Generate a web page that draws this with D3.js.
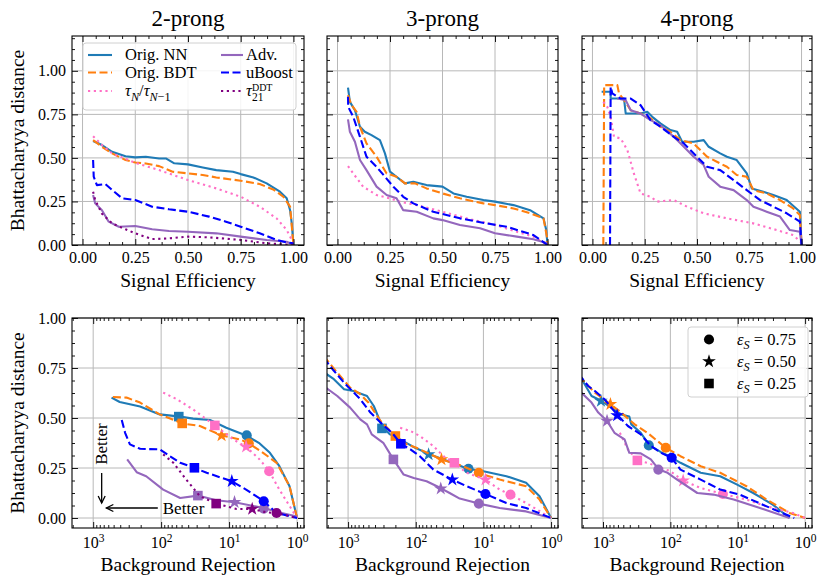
<!DOCTYPE html>
<html><head><meta charset="utf-8">
<script src="https://cdn.jsdelivr.net/npm/d3@7"></script>
<style>
body{margin:0;background:#fff}
svg{display:block}
text{font-family:"Liberation Serif",serif;fill:#000}
</style>
</head><body>
<svg id="c" width="831" height="587"></svg>
<script>
// ---------------- DATA ----------------
const titles = ["2-prong", "3-prong", "4-prong"];
const topXTicks = [0, 0.25, 0.5, 0.75, 1.0];
const yTicks = [0, 0.25, 0.5, 0.75, 1.0];
const botXTicks = [1000, 100, 10, 1];
const effLabels = ["0.75", "0.50", "0.25"];

// Top row: [signal efficiency, Bhattacharyya distance]
const top2_NN = [[0.05,0.597],[0.092,0.574],[0.14,0.535],[0.204,0.51],[0.25,0.503],[0.30,0.507],[0.363,0.497],[0.395,0.497],[0.435,0.469],[0.5,0.463],[0.57,0.445],[0.634,0.43],[0.713,0.421],[0.75,0.407],[0.81,0.388],[0.873,0.354],[0.936,0.306],[0.968,0.268],[0.984,0.2],[0.992,0.124],[1.0,0]];
const top2_BDT = [[0.05,0.602],[0.092,0.564],[0.14,0.526],[0.204,0.488],[0.25,0.474],[0.30,0.468],[0.363,0.453],[0.427,0.421],[0.5,0.411],[0.57,0.402],[0.634,0.388],[0.75,0.369],[0.84,0.35],[0.904,0.319],[0.952,0.277],[0.984,0.22],[1.0,0]];
const top2_tau = [[0.05,0.625],[0.092,0.574],[0.14,0.526],[0.25,0.472],[0.363,0.43],[0.5,0.373],[0.634,0.325],[0.75,0.277],[0.84,0.22],[0.92,0.153],[0.968,0.086],[1.0,0.01]];
const top2_adv = [[0.05,0.287],[0.06,0.239],[0.092,0.2],[0.124,0.134],[0.172,0.105],[0.25,0.109],[0.33,0.09],[0.41,0.08],[0.5,0.076],[0.634,0.067],[0.75,0.048],[0.873,0.029],[0.968,0.019],[1.0,0]];
const top2_uboost = [[0.05,0.488],[0.053,0.392],[0.068,0.344],[0.108,0.35],[0.14,0.316],[0.188,0.268],[0.25,0.258],[0.33,0.22],[0.41,0.205],[0.5,0.191],[0.6,0.163],[0.68,0.134],[0.75,0.105],[0.84,0.067],[0.92,0.029],[0.968,0.015],[1.0,0.01]];
const top2_ddt = [[0.05,0.306],[0.06,0.258],[0.092,0.18],[0.14,0.124],[0.204,0.09],[0.25,0.067],[0.33,0.034],[0.41,0.038],[0.5,0.048],[0.6,0.044],[0.75,0.029],[0.873,0.01],[1.0,0]];

const top3_NN = [[0.05,0.904],[0.059,0.822],[0.083,0.774],[0.107,0.679],[0.13,0.65],[0.162,0.631],[0.202,0.602],[0.226,0.526],[0.25,0.421],[0.281,0.392],[0.321,0.354],[0.361,0.363],[0.424,0.344],[0.5,0.335],[0.552,0.296],[0.615,0.277],[0.695,0.258],[0.75,0.249],[0.838,0.229],[0.917,0.2],[0.981,0.153],[0.994,0.086],[1.0,0]];
const top3_BDT = [[0.05,0.86],[0.067,0.803],[0.091,0.765],[0.107,0.679],[0.138,0.583],[0.186,0.507],[0.234,0.411],[0.281,0.392],[0.321,0.354],[0.369,0.354],[0.424,0.325],[0.5,0.296],[0.583,0.268],[0.695,0.239],[0.75,0.229],[0.838,0.21],[0.917,0.182],[0.981,0.153],[0.997,0.048],[1.0,0]];
const top3_tau = [[0.05,0.453],[0.075,0.411],[0.122,0.335],[0.186,0.287],[0.25,0.268],[0.297,0.249],[0.377,0.229],[0.5,0.191],[0.615,0.153],[0.75,0.115],[0.854,0.076],[0.933,0.048],[1.0,0]];
const top3_adv = [[0.05,0.721],[0.059,0.65],[0.083,0.593],[0.107,0.488],[0.138,0.43],[0.186,0.335],[0.234,0.287],[0.281,0.268],[0.313,0.2],[0.377,0.191],[0.456,0.153],[0.5,0.143],[0.583,0.115],[0.679,0.096],[0.75,0.067],[0.854,0.048],[0.933,0.033],[1.0,0.01]];
const top3_uboost = [[0.05,0.851],[0.051,0.793],[0.075,0.736],[0.107,0.621],[0.138,0.507],[0.186,0.449],[0.226,0.392],[0.266,0.335],[0.313,0.277],[0.361,0.239],[0.456,0.191],[0.583,0.153],[0.71,0.124],[0.806,0.105],[0.933,0.057],[1.0,0]];

const top4_NN = [[0.044,0.88],[0.087,0.88],[0.087,0.841],[0.151,0.841],[0.159,0.755],[0.23,0.755],[0.262,0.765],[0.286,0.736],[0.325,0.698],[0.373,0.66],[0.405,0.65],[0.429,0.593],[0.484,0.593],[0.532,0.602],[0.556,0.564],[0.611,0.526],[0.643,0.507],[0.69,0.488],[0.738,0.411],[0.762,0.325],[0.817,0.306],[0.865,0.287],[0.929,0.258],[0.992,0.191],[1.0,0]];
const top4_BDT = [[0.052,0],[0.056,0.918],[0.119,0.918],[0.127,0.87],[0.151,0.832],[0.183,0.774],[0.23,0.755],[0.278,0.727],[0.325,0.679],[0.373,0.65],[0.421,0.602],[0.484,0.583],[0.548,0.507],[0.595,0.478],[0.643,0.449],[0.69,0.402],[0.738,0.392],[0.77,0.315],[0.833,0.296],[0.897,0.258],[0.96,0.21],[0.992,0.172],[1.0,0]];
const top4_tau = [[0.052,0.822],[0.071,0.793],[0.087,0.736],[0.103,0.621],[0.135,0.612],[0.167,0.545],[0.198,0.411],[0.23,0.296],[0.278,0.277],[0.31,0.249],[0.389,0.258],[0.452,0.22],[0.532,0.182],[0.643,0.153],[0.77,0.124],[0.881,0.086],[0.96,0.057],[0.995,0.019]];
const top4_adv = [[0.119,0.841],[0.159,0.832],[0.183,0.774],[0.23,0.755],[0.278,0.717],[0.325,0.688],[0.389,0.621],[0.437,0.564],[0.484,0.507],[0.532,0.459],[0.556,0.392],[0.611,0.335],[0.675,0.315],[0.738,0.258],[0.77,0.22],[0.833,0.191],[0.897,0.163],[0.944,0.086],[0.992,0.076],[1.0,0]];
const top4_uboost = [[0.084,0],[0.087,0.908],[0.095,0.87],[0.135,0.841],[0.183,0.841],[0.23,0.803],[0.278,0.717],[0.325,0.679],[0.389,0.621],[0.437,0.583],[0.5,0.507],[0.548,0.449],[0.611,0.43],[0.675,0.373],[0.738,0.315],[0.802,0.258],[0.865,0.22],[0.929,0.182],[0.992,0.134],[1.0,0]];

// Bottom row: [background rejection, Bhattacharyya distance]
const bot2_NN = [[537,0.602],[407,0.58],[204,0.557],[105,0.518],[52.5,0.507],[33.9,0.497],[19.1,0.49],[11.0,0.451],[5.62,0.413],[3.55,0.373],[2.51,0.326],[1.82,0.259],[1.29,0.159],[1,0]];
const bot2_BDT = [[513,0.605],[324,0.602],[204,0.577],[105,0.518],[49,0.473],[26.9,0.46],[12.9,0.413],[6.92,0.393],[5.13,0.373],[3.16,0.326],[2.0,0.276],[1.29,0.159],[1,0]];
const bot2_tau = [[93.3,0.627],[58.9,0.594],[33.9,0.543],[16.2,0.463],[8.71,0.393],[5.62,0.356],[3.55,0.293],[2.57,0.234],[1.82,0.142],[1,0]];
const bot2_adv = [[316,0.293],[229,0.229],[166,0.209],[93.3,0.142],[52.5,0.1],[28.8,0.112],[15.5,0.089],[8.32,0.079],[3.09,0.05],[1.82,0.028],[1,0.008]];
const bot2_uboost = [[380,0.49],[339,0.426],[288,0.368],[204,0.346],[105,0.343],[74.1,0.309],[52.5,0.276],[32.4,0.251],[21.4,0.226],[9.12,0.184],[5.62,0.142],[3.09,0.084],[2.0,0.025],[1,0]];
const bot2_ddt = [[93.3,0.318],[66.1,0.276],[42.7,0.192],[26.9,0.109],[15.5,0.072],[7.76,0.045],[4.57,0.045],[2.82,0.028],[2.0,0.025],[1,0]];

const bot3_NN = [[2300,0.73],[1622,0.694],[1148,0.644],[832,0.635],[525,0.61],[417,0.56],[316,0.46],[240,0.418],[170,0.393],[102,0.351],[61.7,0.318],[38.9,0.293],[17.0,0.246],[10,0.234],[4.57,0.209],[2.34,0.176],[1.48,0.109],[1,0]];
const bot3_BDT = [[2300,0.81],[1445,0.727],[933,0.652],[661,0.619],[501,0.577],[331,0.485],[200,0.41],[135,0.368],[97.7,0.351],[41.7,0.293],[20.0,0.259],[12.0,0.226],[5.75,0.192],[2.34,0.159],[1.48,0.092],[1,0]];
const bot3_tau = [[170,0.451],[120,0.435],[87.1,0.41],[55.0,0.36],[38.9,0.309],[26.9,0.276],[17.8,0.226],[9.33,0.192],[5.75,0.142],[3.98,0.117],[2.34,0.075],[1,0]];
const bot3_adv = [[2300,0.66],[1445,0.61],[933,0.552],[661,0.493],[525,0.468],[447,0.418],[302,0.376],[214,0.293],[151,0.217],[107,0.2],[69.2,0.184],[43.7,0.151],[31.6,0.125],[22.4,0.097],[11.7,0.072],[5.75,0.05],[2.34,0.033],[1,0]];
const bot3_uboost = [[2300,0.80],[1622,0.736],[1148,0.677],[661,0.594],[468,0.527],[331,0.477],[224,0.426],[166,0.371],[120,0.343],[87.1,0.309],[55.0,0.242],[28.8,0.192],[17.8,0.159],[9.33,0.12],[4.57,0.075],[2.34,0.05],[1,0]];

const bot4_NN = [[2300,0.72],[1479,0.61],[1047,0.585],[759,0.552],[537,0.518],[407,0.507],[380,0.468],[275,0.426],[204,0.363],[138,0.329],[100,0.306],[70.8,0.276],[35.5,0.226],[18.2,0.209],[10.2,0.167],[5.89,0.125],[3.02,0.067],[1.70,0]];
const bot4_BDT = [[2300,0.71],[1318,0.627],[776,0.569],[537,0.527],[339,0.468],[219,0.426],[117,0.351],[70.8,0.309],[35.5,0.259],[18.2,0.226],[7.41,0.159],[3.72,0.092],[1.70,0.025],[1,0]];
const bot4_tau = [[562,0.426],[427,0.343],[309,0.288],[219,0.276],[138,0.251],[100,0.234],[64.6,0.187],[35.5,0.15],[16.6,0.12],[7.41,0.092],[3.72,0.058],[1.51,0.025],[1,0]];
const bot4_adv = [[2300,0.64],[1479,0.577],[1175,0.527],[871,0.485],[676,0.426],[479,0.393],[407,0.326],[275,0.323],[195,0.293],[148,0.242],[110,0.226],[79.4,0.192],[39.8,0.125],[22.9,0.117],[11.5,0.092],[4.68,0.05],[1.70,0]];
const bot4_uboost = [[2300,0.72],[1660,0.66],[1318,0.635],[955,0.594],[603,0.513],[427,0.46],[275,0.418],[195,0.36],[138,0.326],[95.5,0.301],[70.8,0.242],[35.5,0.192],[18.2,0.142],[9.33,0.117],[3.72,0.058],[1.45,0]];

// Working-point markers: [eps_S=0.75 (circle), eps_S=0.50 (star), eps_S=0.25 (square)]
const mk2_NN = [[5.5,0.413], null, [55,0.507]];
const mk2_BDT = [[5.13,0.373],[12.9,0.413],[49,0.473]];
const mk2_tau = [[2.57,0.234],[5.62,0.356],[16.2,0.463]];
const mk2_adv = [[3.09,0.047],[8.32,0.079],[28.8,0.112]];
const mk2_uboost = [[3.09,0.084],[9.12,0.184],[32.4,0.251]];
const mk2_ddt = [[2.0,0.025],[4.57,0.045],[15.5,0.072]];
const mk3_NN = [[16.6,0.246],[64.6,0.318],[316,0.448]];
const mk3_BDT = [[11.7,0.226],[41.7,0.293],[200,0.41]];
const mk3_tau = [[3.98,0.117],[9.33,0.192],[26.9,0.276]];
const mk3_adv = [[11.7,0.072],[42.7,0.147],[214,0.293]];
const mk3_uboost = [[9.33,0.12],[28.8,0.192],[166,0.371]];
const mk4_NN = [[209,0.363],[1072,0.585],null];
const mk4_BDT = [[117,0.351],[776,0.569],null];
const mk4_tau = [[16.6,0.12],[64.6,0.187],[309,0.288]];
const mk4_adv = [[151,0.242],[871,0.485],null];
const mk4_uboost = [[95.5,0.301],[617,0.513],null];

// ---------------- STYLES / LAYOUT ----------------
const style = {
  NN:     {c:"#1f7bb6", dash:null},
  BDT:    {c:"#ff7f0e", dash:"8,3.5"},
  tau:    {c:"#ff70c6", dash:"2.2,3.6"},
  adv:    {c:"#9467bd", dash:null},
  uboost: {c:"#0000ff", dash:"8,3.5"},
  ddt:    {c:"#800080", dash:"2.2,3.6"}
};
const cols = [[72,304],[327,558],[582,812]];
const topY = [245,36], botY = [528,318];
const FONT = "Liberation Serif, serif";

const svg = d3.select("#c");
const defs = svg.append("defs");

const topSeries = [
  [["NN",top2_NN],["BDT",top2_BDT],["tau",top2_tau],["adv",top2_adv],["uboost",top2_uboost],["ddt",top2_ddt]],
  [["NN",top3_NN],["BDT",top3_BDT],["tau",top3_tau],["adv",top3_adv],["uboost",top3_uboost]],
  [["NN",top4_NN],["BDT",top4_BDT],["tau",top4_tau],["adv",top4_adv],["uboost",top4_uboost]]
];
const botSeries = [
  [["NN",bot2_NN,mk2_NN],["BDT",bot2_BDT,mk2_BDT],["tau",bot2_tau,mk2_tau],["adv",bot2_adv,mk2_adv],["uboost",bot2_uboost,mk2_uboost],["ddt",bot2_ddt,mk2_ddt]],
  [["NN",bot3_NN,mk3_NN],["BDT",bot3_BDT,mk3_BDT],["tau",bot3_tau,mk3_tau],["adv",bot3_adv,mk3_adv],["uboost",bot3_uboost,mk3_uboost]],
  [["NN",bot4_NN,mk4_NN],["BDT",bot4_BDT,mk4_BDT],["tau",bot4_tau,mk4_tau],["adv",bot4_adv,mk4_adv],["uboost",bot4_uboost,mk4_uboost]]
];
const symTypes = [d3.symbolCircle, d3.symbolStar, d3.symbolSquare];
const symSizes = [80, 58, 92];

function fixFont(g, size){ g.attr("font-family", FONT).attr("font-size", size); }

function drawGrid(g, x, y, xT){
  const [x0,x1] = x.range(), [yb,yt] = y.range();
  g.append("g").selectAll("line").data(xT).join("line")
    .attr("x1",d=>x(d)).attr("x2",d=>x(d)).attr("y1",yb).attr("y2",yt)
    .attr("stroke","#b8b8b8").attr("stroke-width",1);
  g.append("g").selectAll("line").data(yTicks).join("line")
    .attr("y1",d=>y(d)).attr("y2",d=>y(d)).attr("x1",x0).attr("x2",x1)
    .attr("stroke","#b8b8b8").attr("stroke-width",1);
}
function drawFrame(g, x, y, xT, xMinor, yMinor, showY, isLog){
  const [x0,x1] = x.range(), [yb,yt] = y.range();
  const fmt = isLog ? (d=>"") : d3.format(".2f");
  const bx = g.append("g").attr("transform",`translate(0,${yb})`)
    .call(d3.axisBottom(x).tickValues(xT).tickSize(-6).tickPadding(isLog?9:7).tickFormat(fmt));
  fixFont(bx, 16);
  if (isLog){
    bx.selectAll(".tick text").each(function(d){
      const t = d3.select(this);
      t.append("tspan").text("10");
      t.append("tspan").text(Math.round(Math.log10(d))).attr("font-size",11.5).attr("dy","-0.55em");
    });
  }
  g.append("g").attr("transform",`translate(0,${yb})`)
    .call(d3.axisBottom(x).tickValues(xMinor).tickSize(-3).tickFormat(""));
  g.append("g").attr("transform",`translate(0,${yt})`)
    .call(d3.axisTop(x).tickValues(xT).tickSize(-6).tickFormat(""));
  g.append("g").attr("transform",`translate(0,${yt})`)
    .call(d3.axisTop(x).tickValues(xMinor).tickSize(-3).tickFormat(""));
  const ly = g.append("g").attr("transform",`translate(${x0},0)`)
    .call(d3.axisLeft(y).tickValues(yTicks).tickSize(-6).tickPadding(6).tickFormat(showY?d3.format(".2f"):""));
  fixFont(ly, 16);
  g.append("g").attr("transform",`translate(${x0},0)`)
    .call(d3.axisLeft(y).tickValues(yMinor).tickSize(-3).tickFormat(""));
  g.append("g").attr("transform",`translate(${x1},0)`)
    .call(d3.axisRight(y).tickValues(yTicks).tickSize(-6).tickFormat(""));
  g.append("g").attr("transform",`translate(${x1},0)`)
    .call(d3.axisRight(y).tickValues(yMinor).tickSize(-3).tickFormat(""));
  g.selectAll(".domain").remove();
  g.selectAll(".tick line").attr("stroke","#000").attr("stroke-width",0.9);
  g.append("rect").attr("x",x0).attr("y",yt).attr("width",x1-x0).attr("height",yb-yt)
    .attr("fill","none").attr("stroke","#000").attr("stroke-width",1.1);
}

function minorLinear(lo, hi){
  const out = [];
  for (let k=-4;k<=24;k++){ const v=k*0.0625; if (v>=lo && v<=hi && Math.abs(v/0.25-Math.round(v/0.25))>1e-9) out.push(v); }
  return out;
}
function minorLog(lo, hi){
  const out = [];
  for (let e=-1;e<=3;e++) for (let m=2;m<=9;m++){ const v=m*Math.pow(10,e); if (v>=lo && v<=hi) out.push(v); }
  return out;
}

function addClip(id, x, y){
  const [x0,x1]=x.range(), [yb,yt]=y.range();
  defs.append("clipPath").attr("id",id).append("rect").attr("x",x0).attr("y",yt).attr("width",x1-x0).attr("height",yb-yt);
}

function drawLines(g, x, y, series, clipId){
  const line = d3.line().x(d=>x(d[0])).y(d=>y(d[1]));
  const lg = g.append("g").attr("clip-path",`url(#${clipId})`);
  series.forEach(([key, data, mk]) => {
    const s = style[key];
    lg.append("path").datum(data).attr("d",line).attr("fill","none")
      .attr("stroke",s.c).attr("stroke-width",2.1)
      .attr("stroke-dasharray",s.dash).attr("stroke-linejoin","round");
    if (mk){
      mk.forEach((p,i)=>{
        if (!p) return;
        lg.append("path").attr("d",d3.symbol().type(symTypes[i]).size(symSizes[i])())
          .attr("transform",`translate(${x(p[0])},${y(p[1])})`).attr("fill",s.c);
      });
    }
  });
}

// ---- panels ----
for (let i=0;i<3;i++){
  const xt = d3.scaleLinear().domain([-0.05,1.05]).range(cols[i]);
  const yt = d3.scaleLinear().domain([0,1.2]).range(topY);
  const gt = svg.append("g");
  drawGrid(gt, xt, yt, topXTicks);
  addClip("ct"+i, xt, yt);
  drawLines(gt, xt, yt, topSeries[i], "ct"+i);
  drawFrame(gt, xt, yt, topXTicks, minorLinear(-0.05,1.05), minorLinear(0,1.2), i===0, false);
  svg.append("text").attr("x",(cols[i][0]+cols[i][1])/2).attr("y",26).attr("text-anchor","middle")
    .attr("font-size",23).text(titles[i]);
  svg.append("text").attr("x",(cols[i][0]+cols[i][1])/2).attr("y",287).attr("text-anchor","middle")
    .attr("font-size",19.5).text("Signal Efficiency");

  const xb = d3.scaleLog().domain([2050,0.79]).range(cols[i]);
  const yb = d3.scaleLinear().domain([-0.05,1.0]).range(botY);
  const gb = svg.append("g");
  drawGrid(gb, xb, yb, botXTicks);
  addClip("cb"+i, xb, yb);
  drawLines(gb, xb, yb, botSeries[i], "cb"+i);
  drawFrame(gb, xb, yb, botXTicks, minorLog(0.79,2050), minorLinear(-0.05,1.0), i===0, true);
  svg.append("text").attr("x",(cols[i][0]+cols[i][1])/2).attr("y",571).attr("text-anchor","middle")
    .attr("font-size",19.5).text("Background Rejection");

  if (i===0){
    const arrV = {x:750, y1:0.225, y2:0.075};
    const arrH = {x1:112, x2:640, y:0.05};
    const ag = svg.append("g").attr("stroke","#000").attr("stroke-width",1.3).attr("fill","none");
    const ax = xb(arrV.x);
    ag.append("line").attr("x1",ax).attr("x2",ax).attr("y1",yb(arrV.y1)).attr("y2",yb(arrV.y2));
    ag.append("path").attr("d",`M${ax-3.5},${yb(arrV.y2)-7}L${ax},${yb(arrV.y2)}L${ax+3.5},${yb(arrV.y2)-7}`);
    const hy = yb(arrH.y);
    ag.append("line").attr("x1",xb(arrH.x1)).attr("x2",xb(arrH.x2)).attr("y1",hy).attr("y2",hy);
    ag.append("path").attr("d",`M${xb(arrH.x2)+7},${hy-3.5}L${xb(arrH.x2)},${hy}L${xb(arrH.x2)+7},${hy+3.5}`);
    svg.append("text").attr("transform",`translate(${xb(arrV.x)+5.5},${yb(0.37)}) rotate(-90)`)
      .attr("text-anchor","middle").attr("font-size",17).text("Better");
    svg.append("text").attr("x",xb(arrH.x1)+5).attr("y",hy+5.5).attr("font-size",17).text("Better");
  }
}

// y-axis labels
[(topY[0]+topY[1])/2, (botY[0]+botY[1])/2].forEach(cy=>{
  svg.append("text").attr("transform",`translate(24,${cy}) rotate(-90)`).attr("text-anchor","middle")
    .attr("font-size",19.5).text("Bhattacharyya distance");
});

// ---- rich text helper ----
function rich(t, parts, size){
  let cur = 0;
  parts.forEach(p=>{
    const off = p.sub ? size*0.3 : p.sup ? -size*0.42 : 0;
    const ts = t.append("tspan").text(p.t).attr("dy", off-cur);
    cur = off;
    if (p.i) ts.style("font-style","italic");
    if (p.sub || p.sup) ts.attr("font-size", size*0.74);
  });
}

// ---- top-left legend ----
const leg = svg.append("g");
leg.append("rect").attr("x",83).attr("y",43).attr("width",213).attr("height",67).attr("rx",3)
  .attr("fill","#fff").attr("fill-opacity",0.85).attr("stroke","#d0d0d0").attr("stroke-width",1);
const legItems = [
  ["NN",0,0,[{t:"Orig. NN"}]],
  ["BDT",0,1,[{t:"Orig. BDT"}]],
  ["tau",0,2,[{t:"τ",i:1},{t:"N",i:1,sub:1},{t:"/"},{t:"τ",i:1},{t:"N",i:1,sub:1},{t:"−1",sub:1}]],
  ["adv",1,0,[{t:"Adv."}]],
  ["uboost",1,1,[{t:"uBoost"}]],
  ["ddt",1,2,null]
];
const colLine = [[88,112],[221,243]], colText=[125,246], rowY=[55,72.5,91];
legItems.forEach(([k,c,r,parts])=>{
  const s = style[k];
  leg.append("line").attr("x1",colLine[c][0]).attr("x2",colLine[c][1]).attr("y1",rowY[r]).attr("y2",rowY[r])
    .attr("stroke",s.c).attr("stroke-width",2.1).attr("stroke-dasharray",s.dash);
  const t = leg.append("text").attr("x",colText[c]).attr("y",rowY[r]+5).attr("font-size",16.5);
  if (parts) rich(t, parts, 16.5);
  else {
    t.append("tspan").text("τ").style("font-style","italic");
    const sub = t.append("tspan").text("21").attr("font-size",11.5).attr("dy",5);
    const w = sub.node().getComputedTextLength();
    t.append("tspan").text("DDT").attr("font-size",10).attr("dx",-w).attr("dy",-10.5);
  }
});

// ---- bottom-right legend (working points) ----
const leg2 = svg.append("g");
leg2.append("rect").attr("x",688).attr("y",327).attr("width",120).attr("height",70).attr("rx",3)
  .attr("fill","#fff").attr("fill-opacity",0.85).attr("stroke","#d0d0d0").attr("stroke-width",1);
const rowY2 = [339.5,361.5,383.5];
effLabels.forEach((lab,i)=>{
  leg2.append("path").attr("d",d3.symbol().type(symTypes[i]).size(symSizes[i])())
    .attr("transform",`translate(709,${rowY2[i]})`).attr("fill","#000");
  const t = leg2.append("text").attr("x",737).attr("y",rowY2[i]+5).attr("font-size",16.5);
  rich(t, [{t:"ε",i:1},{t:"S",i:1,sub:1},{t:" = "+lab}], 16.5);
});
</script>
</body></html>
